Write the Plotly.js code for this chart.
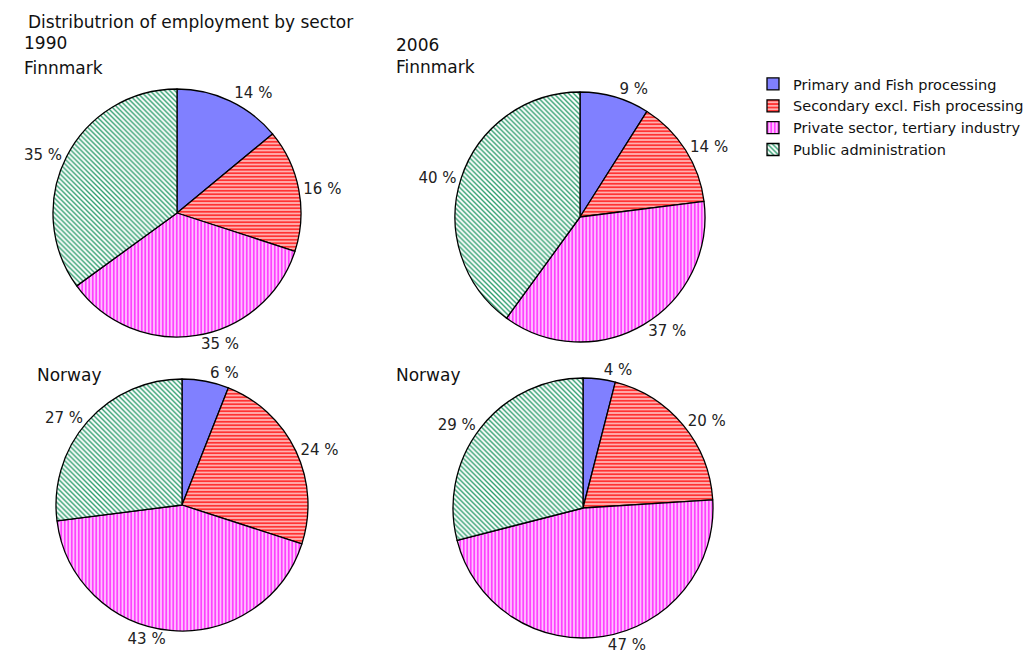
<!DOCTYPE html>
<html>
<head>
<meta charset="utf-8">
<script src="https://cdn.plot.ly/plotly-3.0.1.min.js"></script>
<style>html,body{margin:0;padding:0;background:#fff;}#chart{width:1032px;height:653px;}</style>
</head>
<body>
<div id="chart"></div>
<script>
// ---- data ----
const sectors = ["Primary and Fish processing", "Secondary excl. Fish processing", "Private sector, tertiary industry", "Public administration"];
const finnmark1990 = [14, 16, 35, 35];
const finnmark2006 = [9, 14, 37, 40];
const norway1990 = [6, 24, 43, 27];
const norway2006 = [4, 20, 47, 29];

// ---- styles ----
const W = 1032, H = 653;
const bgColors = ["#8080ff", "#ffb0b0", "#ffc0ff", "#ffffff"];
const fgColors = ["#8080ff", "#ff3333", "#ff33ff", "#2e9e6e"];
const shapes = ["", "-", "|", "\\"];
const fontFam = "DejaVu Sans, Verdana, sans-serif";

function dom(cx, cy, r) {
  return {x: [(cx - r) / W, (cx + r) / W], y: [(H - cy - r) / H, (H - cy + r) / H]};
}

function pie(values, d, show) {
  return {
    type: "pie",
    labels: sectors,
    values: values,
    domain: d,
    sort: false,
    direction: "clockwise",
    rotation: 0,
    texttemplate: "%{value} %",
    textposition: "outside",
    outsidetextfont: {family: fontFam, size: 15, color: "#222"},
    automargin: false,
    showlegend: show,
    hoverinfo: "label+value",
    marker: {
      colors: bgColors,
      line: {color: "#000", width: 1.3},
      pattern: {shape: shapes, fgcolor: fgColors, bgcolor: bgColors, size: 3.5, solidity: [0.45, 0.5, 0.45, 0.4], fillmode: "replace"}
    }
  };
}

const data = [
  pie(finnmark1990, dom(177, 213, 124), true),
  pie(finnmark2006, dom(580, 217, 125), false),
  pie(norway1990, dom(182, 505, 126), false),
  pie(norway2006, dom(583, 508, 130), false)
];

function ann(text, px, py, size) {
  return {text: text, x: px / W, y: 1 - py / H, xref: "paper", yref: "paper",
    xanchor: "left", yanchor: "middle", showarrow: false,
    font: {family: fontFam, size: size, color: "#111"}};
}

const layout = {
  width: W, height: H,
  margin: {l: 0, r: 0, t: 0, b: 0},
  paper_bgcolor: "#fff",
  plot_bgcolor: "#fff",
  showlegend: true,
  legend: {x: 753 / W, y: 1 - 68 / H, xanchor: "left", yanchor: "top",
    font: {family: fontFam, size: 14.5, color: "#111"}, itemwidth: 30,
    bgcolor: "rgba(0,0,0,0)", traceorder: "normal"},
  annotations: [
    ann("Distributrion of employment by sector", 26, 22, 17),
    ann("1990", 22, 43, 17),
    ann("Finnmark", 22, 68, 17),
    ann("2006", 394, 45, 17),
    ann("Finnmark", 394, 67, 17),
    ann("Norway", 35, 375, 17),
    ann("Norway", 394, 375, 17)
  ]
};

Plotly.newPlot("chart", data, layout, {displayModeBar: false, staticPlot: true});
</script>
</body>
</html>
